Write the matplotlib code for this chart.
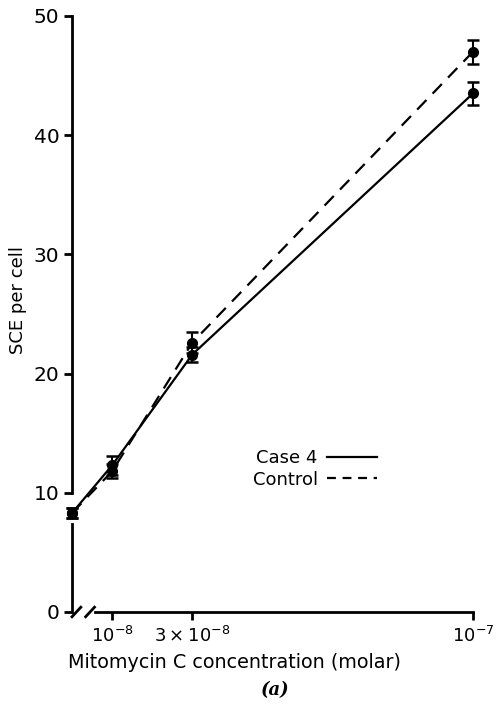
import numpy as np
import matplotlib
matplotlib.use("Agg")
import matplotlib.pyplot as plt
from matplotlib.lines import Line2D

# --- datos ---
conc = [0.0, 1e-8, 3e-8, 1e-7]          # molar
case4 = [8.3, 12.3, 21.6, 43.5]
case4_err = [0.4, 0.8, 0.6, 1.0]
control = [8.3, 11.8, 22.6, 47.0]
control_err = [0.4, 0.6, 0.9, 1.0]

xticks = [1e-8, 3e-8, 1e-7]
xticklabels = [r"$10^{-8}$", r"$3\times10^{-8}$", r"$10^{-7}$"]
yticks = [0, 10, 20, 30, 40, 50]

plt.rcParams['font.family'] = ['DejaVu Sans']
plt.rcParams['mathtext.fontset'] = 'dejavusans'

fig = plt.figure(figsize=(4.97, 7.07), dpi=100)
ax = fig.add_axes([0.1449, 0.1344, 0.8068, 0.8430])

common = dict(fmt='o', color='black', ms=7, capsize=4.5, capthick=1.8,
              elinewidth=1.5, lw=1.6, clip_on=False, zorder=3)
ax.errorbar(conc, case4, yerr=case4_err, ls='-', **common)
ax.errorbar(conc, control, yerr=control_err, ls=(0, (6, 4)), **common)

ax.set_xlim(0, 1e-7)
ax.set_ylim(0, 50)

# ejes con cortes
for s in ('top', 'right'):
    ax.spines[s].set_visible(False)
ax.spines['left'].set_bounds(10, 50)
ax.spines['bottom'].set_bounds(0.57e-8, 1e-7)
ax.spines['left'].set_linewidth(2.0)
ax.spines['bottom'].set_linewidth(2.0)
ax.plot([0, 0], [0, 7.4], color='black', lw=2.0, clip_on=False, zorder=2)
# marcas de corte "//"
for x0 in (0.0, 0.034):
    ax.plot([x0, x0 + 0.022], [-0.008, 0.008], transform=ax.transAxes,
            color='black', lw=2.0, clip_on=False)

ax.set_yticks(yticks)
ax.set_yticklabels([str(v) for v in yticks])
ax.set_xticks(xticks)
ax.set_xticklabels(xticklabels)
ax.tick_params(axis='both', direction='out', length=6, width=2.0,
               color='black')
ax.tick_params(axis='x', pad=4, labelsize=13)
ax.tick_params(axis='y', pad=3, labelsize=14.5)

ax.set_ylabel("SCE per cell", fontsize=13)
ax.yaxis.set_label_coords((27 - 72) / 401, (612 - 300) / 596)
fig.text(235 / 497, 1 - 662 / 707, "Mitomycin C concentration (molar)",
         fontsize=13.8, ha='center', va='center')
fig.text(275 / 497, 1 - 690 / 707, "(a)", fontsize=13, ha='center',
         va='center', family='DejaVu Serif', style='italic', weight='bold')

handles = [Line2D([], [], color='black', lw=1.6, ls='-'),
           Line2D([], [], color='black', lw=1.6, ls=(0, (4, 3)))]
fig.legend(handles, ["Case 4", "Control"], loc='center',
           bbox_to_anchor=(315 / 497, 1 - 469 / 707), frameon=False,
           markerfirst=False, fontsize=13, handlelength=2.8,
           handletextpad=0.5, labelspacing=0.2, borderpad=0)

fig.savefig("out.png", dpi=100)
